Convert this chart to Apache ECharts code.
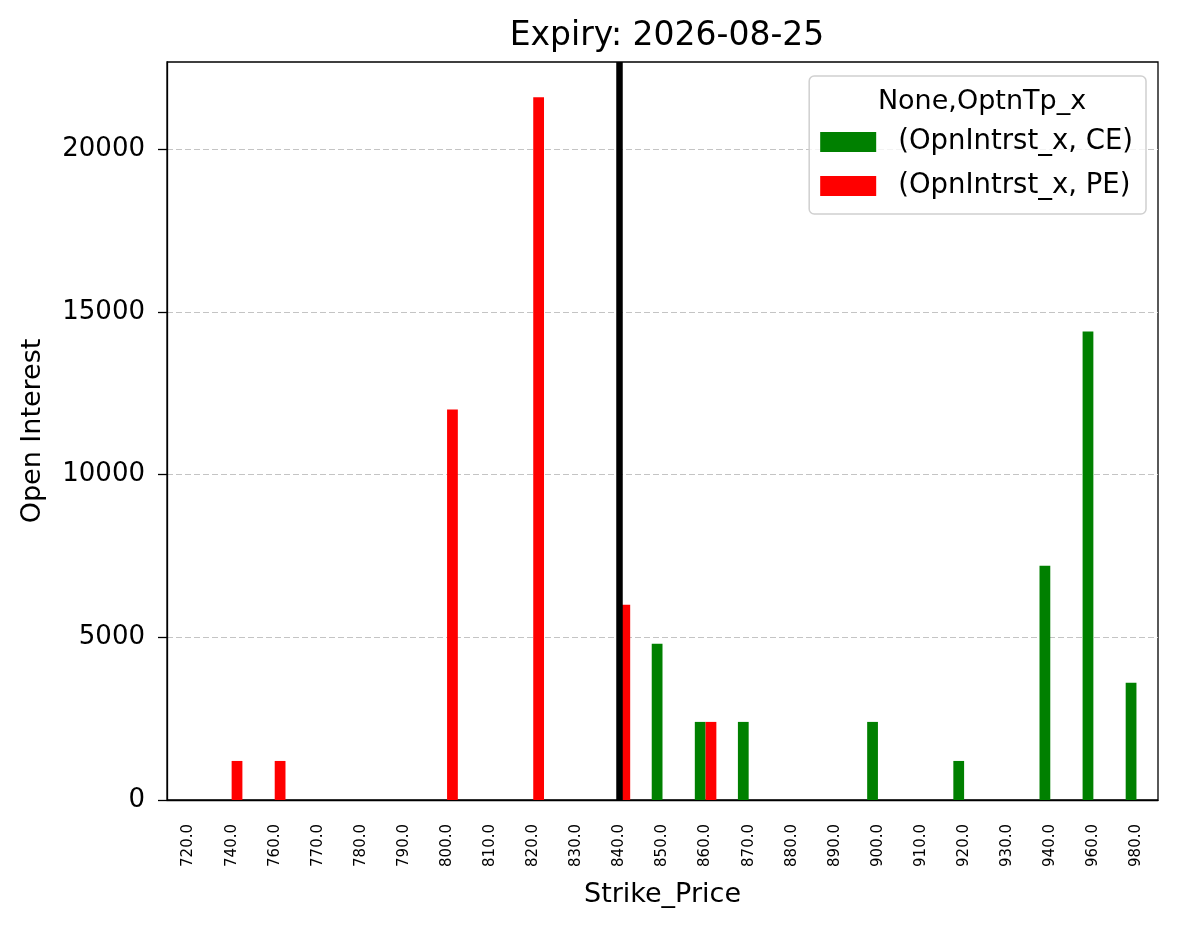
<!DOCTYPE html>
<html>
<head>
<meta charset="utf-8">
<script src="https://cdn.jsdelivr.net/npm/echarts@6/dist/echarts.min.js"></script>
<style>html,body{margin:0;padding:0;background:#fff}#c{width:1179px;height:928px}</style>
</head>
<body>
<div id="c"></div>
<script>
const strikes = ['720.0','740.0','760.0','770.0','780.0','790.0','800.0','810.0','820.0','830.0','840.0','850.0','860.0','870.0','880.0','890.0','900.0','910.0','920.0','930.0','940.0','960.0','980.0'];
const ceValues = [0,0,0,0,0,0,0,0,0,0,0,4800,2400,2400,0,0,2400,0,1200,0,7200,14400,3600];
const peValues = [0,1200,1200,0,0,0,12000,0,21600,0,6000,0,2400,0,0,0,0,0,0,0,0,0,0];
const yTicks = [0,5000,10000,15000,20000];
const spotStrike = '840.0';
const seriesNames = ['(OpnIntrst_x, CE)','(OpnIntrst_x, PE)'];

const FONT = 'DejaVu Sans';
const chart = echarts.init(document.getElementById('c'));
chart.setOption({
  animation: false,
  textStyle: {fontFamily: FONT, color: '#000'},
  title: [
    {text: 'Expiry: 2026-08-25', left: 662, top: 15, textAlign: 'center',
     textStyle: {fontFamily: FONT, fontSize: 33, fontWeight: 'normal', color: '#000'}},
    {text: 'None,OptnTp_x', left: 977, top: 83, textAlign: 'center', z: 10,
     textStyle: {fontFamily: FONT, fontSize: 27, fontWeight: 'normal', color: '#000'}}
  ],
  legend: {
    orient: 'vertical', right: 33, top: 76,
    data: seriesNames,
    itemWidth: 56, itemHeight: 20, itemGap: 16,
    icon: 'rect',
    padding: [52, 13, 14, 11],
    borderColor: '#d0d0d0', borderWidth: 1.5, borderRadius: 5,
    backgroundColor: 'rgba(255,255,255,0.8)',
    textStyle: {fontFamily: FONT, fontSize: 27.5, color: '#000', padding: [0,0,0,17]}
  },
  grid: {left: 167, right: 21, top: 62, bottom: 128, show: true, borderColor: '#000', borderWidth: 1.3, backgroundColor: 'transparent'},
  xAxis: {
    type: 'category', data: strikes,
    name: 'Strike_Price', nameLocation: 'middle', nameGap: 81,
    nameTextStyle: {fontFamily: FONT, fontSize: 27, color: '#000'},
    axisLine: {lineStyle: {color: '#000', width: 1.3}},
    axisTick: {alignWithLabel: true, length: 9, lineStyle: {color: '#000', width: 1.3}},
    axisLabel: {rotate: 90, fontFamily: FONT, fontSize: 15, color: '#000', margin: 24, interval: 0},
    splitLine: {show: false}
  },
  yAxis: {
    type: 'value', min: 0, max: 22680, interval: 5000,
    name: 'Open Interest', nameLocation: 'middle', nameGap: 121,
    nameTextStyle: {fontFamily: FONT, fontSize: 27, color: '#000'},
    axisLine: {show: true, lineStyle: {color: '#000', width: 1.3}},
    axisTick: {show: true, length: 9, lineStyle: {color: '#000', width: 1.3}, customValues: yTicks},
    axisLabel: {fontFamily: FONT, fontSize: 26, color: '#000', margin: 22, customValues: yTicks,
      formatter: v => String(v)},
    splitLine: {show: true, lineStyle: {color: '#c4c4c4', type: [6, 3], width: 1.2}}
  },
  series: [
    {name: seriesNames[0], type: 'bar', data: ceValues, barWidth: '25%', barGap: '0%',
     itemStyle: {color: '#008000'}},
    {name: seriesNames[1], type: 'bar', data: peValues, barWidth: '25%', barGap: '0%',
     itemStyle: {color: '#ff0000'}},
    {name: 'spot', type: 'line', data: [], z: 10,
     markLine: {silent: true, symbol: 'none', label: {show: false},
       lineStyle: {color: '#000', width: 6.5, type: 'solid'},
       data: [{xAxis: spotStrike}]}}
  ]
});
</script>
</body>
</html>
